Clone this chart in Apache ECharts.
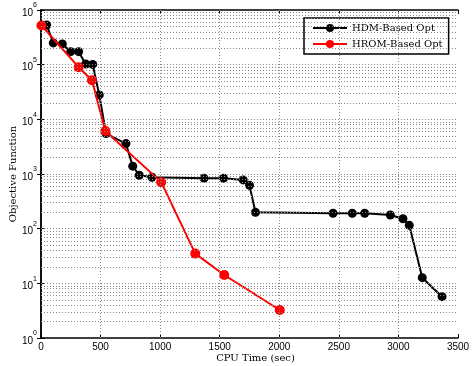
<!DOCTYPE html>
<html>
<head>
<meta charset="utf-8">
<script src="https://cdn.jsdelivr.net/npm/echarts@6/dist/echarts.min.js"></script>
<style>
  html, body { margin: 0; padding: 0; background: #fff; }
  #chart { width: 476px; height: 366px; }
</style>
</head>
<body>
<div id="chart"></div>
<script>
// Objective function history against CPU time for the two optimisation runs
const hdmTime = [48, 103, 179, 249, 316, 375, 434, 489, 546, 713, 770, 825, 932, 1368, 1533, 1697, 1750, 1800, 2451, 2613, 2717, 2932, 3038, 3091, 3200, 3366];
const hdmObj  = [5.3e5, 2.5e5, 2.4e5, 1.73e5, 1.73e5, 1.03e5, 1.01e5, 2.8e4, 5.5e3, 3.6e3, 1.39e3, 950, 870, 840, 840, 780, 620, 199, 191, 191, 191, 178, 152, 115, 12.7, 5.7];

const hromTime = [4, 316, 428, 540, 1009, 1295, 1538, 2004];
const hromObj  = [5.2e5, 9.0e4, 5.2e4, 6.1e3, 710, 35, 14.2, 3.25];

const seriesNames = ['HDM-Based Opt', 'HROM-Based Opt'];
const xTicks = [0, 500, 1000, 1500, 2000, 2500, 3000, 3500];
const decadeExps = [0, 1, 2, 3, 4, 5, 6];

// dotted horizontal grid at every 1..9 x 10^k step of the log axis
const logGrid = [];
for (let k = 0; k < decadeExps.length - 1; k++) {
  for (let m = 1; m <= 9; m++) {
    if (m === 1 && k === 0) continue;
    logGrid.push({ yAxis: m * Math.pow(10, decadeExps[k]) });
  }
}
// dotted vertical grid at the labelled x ticks
const xGrid = xTicks.slice(1, -1).map(v => ({ xAxis: v }));

const dotted = { color: '#8a8a8a', width: 1, type: [1, 2] };
const chart = echarts.init(document.getElementById('chart'), null, { renderer: 'canvas' });

const tickFont = { fontFamily: 'Liberation Sans, Arial, sans-serif', fontSize: 10, color: '#000' };
const nameFont = { fontFamily: 'DejaVu Serif, serif', fontSize: 10, color: '#000' };

chart.setOption({
  animation: false,
  backgroundColor: '#fff',
  grid: { left: 41, right: 18, top: 10, bottom: 28, containLabel: false, outerBoundsMode: 'none' },
  legend: {
    orient: 'vertical',
    left: 304,
    top: 18,
    data: seriesNames,
    backgroundColor: '#fff',
    borderColor: '#000',
    borderWidth: 1.5,
    borderRadius: 0,
    padding: [5, 6, 5, 8],
    itemGap: 6,
    itemWidth: 34,
    itemHeight: 10,
    textStyle: { fontFamily: 'DejaVu Serif, serif', fontSize: 10, color: '#000' }
  },
  xAxis: [{
    type: 'value', min: 0, max: 3500, interval: 500,
    name: 'CPU Time (sec)', nameLocation: 'middle', nameGap: 15,
    nameMoveOverlap: false,
    nameTextStyle: Object.assign({ padding: [0, 0, 0, 12] }, nameFont),
    axisLine: { show: true, lineStyle: { color: '#000', width: 1.5 } },
    axisTick: { show: true, inside: true, length: 4, lineStyle: { color: '#000' } },
    axisLabel: Object.assign({ margin: 4, formatter: v => String(v) }, tickFont),
    splitLine: { show: false }
  }, {
    type: 'value', min: 0, max: 3500, interval: 500, position: 'top',
    axisLine: { show: true, onZero: false, lineStyle: { color: '#000', width: 1.5 } },
    axisTick: { show: true, inside: true, length: 4, lineStyle: { color: '#000' } },
    axisLabel: { show: false },
    splitLine: { show: false }
  }],
  yAxis: [{
    type: 'log', logBase: 10, min: 1, max: 1e6,
    name: 'Objective Function', nameLocation: 'middle', nameGap: 23,
    nameMoveOverlap: false,
    nameTextStyle: nameFont,
    axisLine: { show: true, lineStyle: { color: '#000', width: 1.5 } },
    axisTick: { show: true, inside: true, length: 4, lineStyle: { color: '#000' } },
    axisLabel: {
      margin: 4,
      formatter: v => '{b|10}{s|' + Math.round(Math.log10(v)) + '}',
      rich: {
        b: { fontFamily: 'Liberation Sans, Arial, sans-serif', fontSize: 10, color: '#000', verticalAlign: 'bottom', padding: [6, 0, 0, 0] },
        s: { fontFamily: 'Liberation Sans, Arial, sans-serif', fontSize: 7, color: '#000', verticalAlign: 'top', padding: [0, 0, 6, 0] }
      }
    },
    splitLine: { show: false }
  }, {
    type: 'log', logBase: 10, min: 1, max: 1e6, position: 'right',
    axisLine: { show: true, lineStyle: { color: '#000', width: 1.5 } },
    axisTick: { show: true, inside: true, length: 4, lineStyle: { color: '#000' } },
    axisLabel: { show: false },
    splitLine: { show: false }
  }],
  series: [{
    name: 'grid',
    type: 'line',
    data: [],
    silent: true,
    markLine: {
      silent: true, symbol: 'none', label: { show: false },
      lineStyle: dotted, animation: false,
      data: logGrid.concat(xGrid)
    }
  }, {
    name: seriesNames[0],
    type: 'line',
    data: hdmTime.map((t, i) => [t, hdmObj[i]]),
    symbol: 'circle', symbolSize: 9,
    color: '#000',
    lineStyle: { color: '#000', width: 2 },
    itemStyle: { color: '#000' },
    z: 3
  }, {
    name: seriesNames[1],
    type: 'line',
    data: hromTime.map((t, i) => [t, hromObj[i]]),
    symbol: 'circle', symbolSize: 10,
    color: '#ff0000',
    lineStyle: { color: '#ff0000', width: 2 },
    itemStyle: { color: '#ff0000' },
    z: 4
  }]
});
</script>
</body>
</html>
